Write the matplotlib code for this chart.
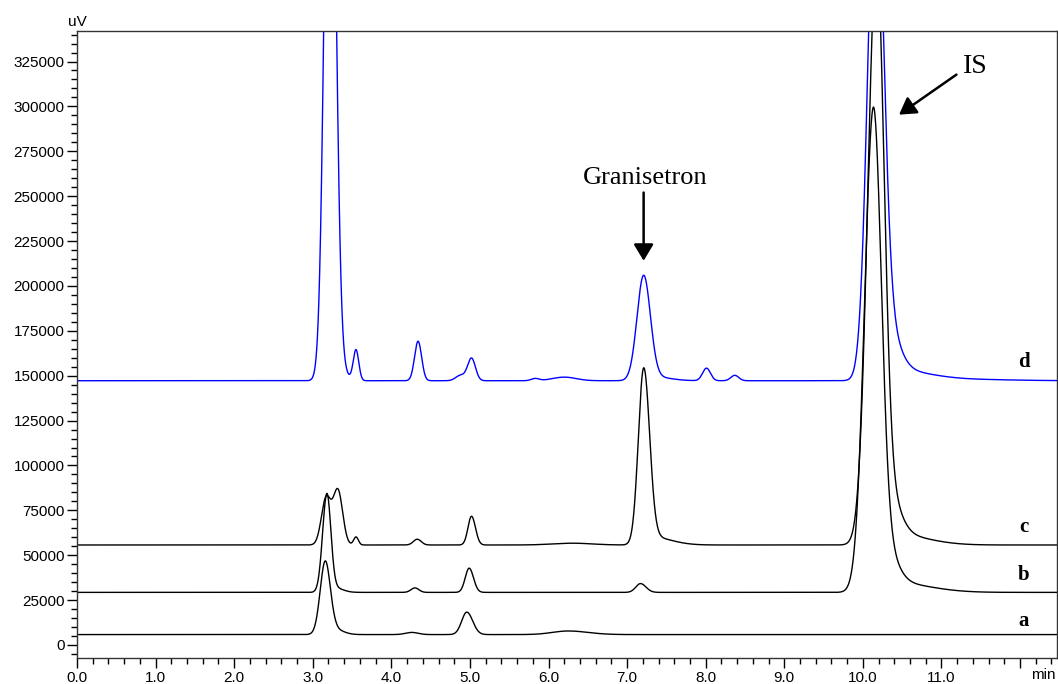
import numpy as np
import matplotlib
matplotlib.use('Agg')
from matplotlib import pyplot as plt
from matplotlib.ticker import MultipleLocator

# retention time grid (min)
t = np.linspace(0, 12.47, 4000)

# peak tables
# rt = retention time (min), h = height above baseline (uV), sl/sr = left/right width (min)
a_base = 5800
a_rt = [3.16, 3.30, 4.26, 4.96, 6.25]
a_h  = [41000, 2500, 1200, 12500, 2000]
a_sl = [0.065, 0.05, 0.08, 0.065, 0.2]
a_sr = [0.065, 0.10, 0.08, 0.075, 0.25]

b_base = 29300
b_rt = [3.18, 3.28, 4.30, 4.99, 7.17, 10.13, 10.27, 10.37]
b_h  = [54800, 2500, 2500, 13500, 4900, 261000, 20000, 5500]
b_sl = [0.055, 0.05, 0.05, 0.05, 0.06, 0.11, 0.10, 0.15]
b_sr = [0.05, 0.10, 0.05, 0.055, 0.07, 0.10, 0.15, 0.45]

c_base = 55700
c_rt = [3.17, 3.32, 3.55, 4.33, 5.02, 6.3, 7.21, 7.30, 10.17, 10.30, 10.40]
c_h  = [26000, 30200, 4500, 3200, 16000, 1000, 96300, 4500, 315000, 25000, 6000]
c_sl = [0.06, 0.06, 0.03, 0.05, 0.045, 0.25, 0.068, 0.08, 0.11, 0.10, 0.15]
c_sr = [0.06, 0.06, 0.03, 0.05, 0.05, 0.25, 0.075, 0.25, 0.095, 0.15, 0.40]

d_base = 147200
d_rt = [3.22, 3.30, 3.55, 4.34, 4.88, 5.02, 5.83, 6.20, 7.21, 7.35, 8.01, 8.37,
        10.16, 10.30, 10.40, 11.2]
d_h  = [400000, 8000, 17000, 22000, 3000, 12500, 1200, 2000, 58000, 2000, 7000, 3000,
        280000, 24000, 6000, 800]
d_sl = [0.068, 0.06, 0.035, 0.045, 0.06, 0.05, 0.05, 0.15, 0.085, 0.1, 0.05, 0.05,
        0.10, 0.10, 0.15, 0.4]
d_sr = [0.068, 0.10, 0.035, 0.045, 0.06, 0.05, 0.05, 0.15, 0.085, 0.2, 0.05, 0.05,
        0.10, 0.15, 0.40, 0.6]


def trace(base, rt, h, sl, sr):
    y = np.full_like(t, float(base))
    for r, hh, l, rr in zip(rt, h, sl, sr):
        s = np.where(t < r, l, rr)
        y += hh * np.exp(-0.5 * ((t - r) / s) ** 2)
    return y


fig = plt.figure(figsize=(10.58, 6.84), dpi=100)
ax = fig.add_axes([77 / 1058, 26 / 684, 980 / 1058, 627 / 684])

ax.plot(t, trace(d_base, d_rt, d_h, d_sl, d_sr), color='#0000ff', lw=1.0)
ax.plot(t, trace(c_base, c_rt, c_h, c_sl, c_sr), color='black', lw=1.0)
ax.plot(t, trace(b_base, b_rt, b_h, b_sl, b_sr), color='black', lw=1.0)
ax.plot(t, trace(a_base, a_rt, a_h, a_sl, a_sr), color='black', lw=1.0)

ax.set_xlim(0, 12.47)
ax.set_ylim(-7250, 342000)

sans = 'Liberation Sans'
serif = 'Liberation Serif'

ax.set_xticks(np.arange(0, 13, 1.0))
ax.set_xticklabels(['%.1f' % v for v in range(12)] + [''], fontsize=11, family=sans)
ax.xaxis.set_minor_locator(MultipleLocator(0.2))
ax.set_yticks(np.arange(0, 325001, 25000))
ax.set_yticklabels([str(v) for v in range(0, 325001, 25000)], fontsize=11, family=sans)
ax.yaxis.set_minor_locator(MultipleLocator(5000))
ax.tick_params(which='major', direction='out', length=7, width=1.0, pad=2)
ax.tick_params(which='minor', direction='out', length=4, width=1.0)
for sp in ax.spines.values():
    sp.set_color('#333333')
    sp.set_linewidth(1.0)

ax.annotate('uV', xy=(0, 1), xycoords='axes fraction', xytext=(0, 2),
            textcoords='offset pixels', ha='center', va='bottom', fontsize=11, family=sans)
ax.annotate('min', xy=(1, 0), xycoords='axes fraction', xytext=(-1, -10),
            textcoords='offset pixels', ha='right', va='top', fontsize=11, family=sans)

# peak annotations
ax.text(7.23, 260000, 'Granisetron', ha='center', va='center', fontsize=19, family=serif)
ax.annotate('', xy=(7.21, 214000), xytext=(7.21, 252000),
            arrowprops=dict(arrowstyle='-|>,head_length=0.5,head_width=0.3', color='black',
                            lw=1.8, mutation_scale=20, shrinkA=0, shrinkB=0))
ax.text(11.43, 322000, 'IS', ha='center', va='center', fontsize=20, family=serif)
ax.annotate('', xy=(10.46, 295400), xytext=(11.19, 317700),
            arrowprops=dict(arrowstyle='-|>,head_length=0.5,head_width=0.3', color='black',
                            lw=1.8, mutation_scale=20, shrinkA=0, shrinkB=0))

# trace labels
for lab, yv in zip(['d', 'c', 'b', 'a'], [157700, 65800, 39000, 13400]):
    ax.text(12.05, yv, lab, ha='center', va='center', fontsize=15, fontweight='bold', family=serif)

fig.savefig('out.png', dpi=100)
